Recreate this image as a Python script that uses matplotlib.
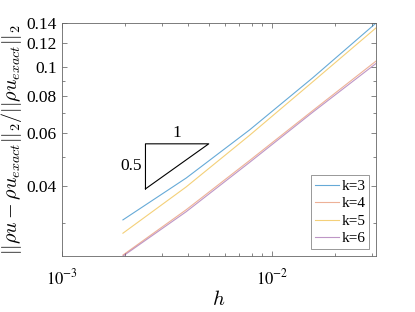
import numpy as np
import matplotlib
matplotlib.use('Agg')
import matplotlib.pyplot as plt
from matplotlib.ticker import FixedLocator, FixedFormatter, LogLocator, NullFormatter

plt.rcParams['font.family'] = ['Liberation Serif', 'DejaVu Serif']
plt.rcParams['mathtext.fontset'] = 'cm'

# mesh sizes and relative errors
h = [1/512, 1/256, 1/128, 1/64, 1/32]
err_k3 = [0.0308, 0.0425, 0.0615, 0.0919, 0.1400]
err_k4 = [0.0235, 0.0333, 0.0486, 0.0714, 0.1045]
err_k5 = [0.0278, 0.0397, 0.0590, 0.0891, 0.1349]
err_k6 = [0.0233, 0.0328, 0.0479, 0.0705, 0.1026]

# slope triangle (rate 0.5)
tri_x = [0.0025, 0.005]
tri_y0 = 0.0391

yticks = [0.04, 0.06, 0.08, 0.1, 0.12, 0.14]
ytick_labels = ['0.04', '0.06', '0.08', '0.1', '0.12', '0.14']
xticks = [1e-3, 1e-2]
xtick_labels = [r'$10^{-3}$', r'$10^{-2}$']

fig = plt.figure(figsize=(4.15, 3.12), dpi=100)
ax = fig.add_axes([0.149, 0.179, 0.757, 0.747])

lw = 0.8
ax.plot(h, err_k3, color=(0, 0.447, 0.741), lw=lw, alpha=0.6, label='k=3')
ax.plot(h, err_k4, color=(0.85, 0.325, 0.098), lw=lw, alpha=0.45, label='k=4')
ax.plot(h, err_k5, color=(0.929, 0.694, 0.125), lw=lw, alpha=0.6, label='k=5')
ax.plot(h, err_k6, color=(0.494, 0.184, 0.556), lw=lw, alpha=0.5, label='k=6')

tri_y1 = tri_y0 * (tri_x[1] / tri_x[0]) ** 0.5
ax.plot([tri_x[0], tri_x[0], tri_x[1], tri_x[0]],
        [tri_y0, tri_y1, tri_y1, tri_y0], color='k', lw=0.8)
ax.text(np.sqrt(tri_x[0] * tri_x[1]), tri_y1 * 1.025, '1',
        ha='center', va='bottom', fontsize=12.5)
ax.text(tri_x[0] * 0.96, np.sqrt(tri_y0 * tri_y1), '0.5',
        ha='right', va='center', fontsize=12.5)

ax.set_xscale('log')
ax.set_yscale('log')
ax.set_xlim(1e-3, 1/32)
ax.set_ylim(0.0233, 0.14)

ax.xaxis.set_major_locator(FixedLocator(xticks))
ax.xaxis.set_major_formatter(FixedFormatter(xtick_labels))
ax.xaxis.set_minor_locator(LogLocator(base=10, subs=np.arange(2, 10)))
ax.xaxis.set_minor_formatter(NullFormatter())
ax.yaxis.set_major_locator(FixedLocator(yticks))
ax.yaxis.set_major_formatter(FixedFormatter(ytick_labels))
ax.yaxis.set_minor_locator(LogLocator(base=10, subs=np.arange(2, 10)))
ax.yaxis.set_minor_formatter(NullFormatter())

ax.tick_params(which='both', direction='in', top=True, right=True,
               colors='#555555', labelcolor='k')
ax.tick_params(axis='y', labelsize=12.5)
ax.tick_params(axis='x', labelsize=12, pad=9)
ax.tick_params(which='major', length=3.5, width=0.5)
ax.tick_params(which='minor', length=2, width=0.5)
for lab in ax.get_xticklabels():
    lab.set_math_fontfamily('stix')
for s in ax.spines.values():
    s.set_color('#666666')
    s.set_linewidth(0.6)

ax.set_xlabel(r'$h$', fontsize=15, labelpad=2)
ax.set_ylabel(r'$||\rho u - \rho u_{exact}||_2/||\rho u_{exact}||_2$', fontsize=14.5, labelpad=2)

leg = ax.legend(loc='lower right', fontsize=11, fancybox=False, framealpha=1,
                handlelength=1.6, borderpad=0.25, labelspacing=0.25,
                handletextpad=0.15, borderaxespad=0.45)
leg.get_frame().set_edgecolor('#888888')
leg.get_frame().set_linewidth(0.6)

fig.savefig('out.png', dpi=100)
